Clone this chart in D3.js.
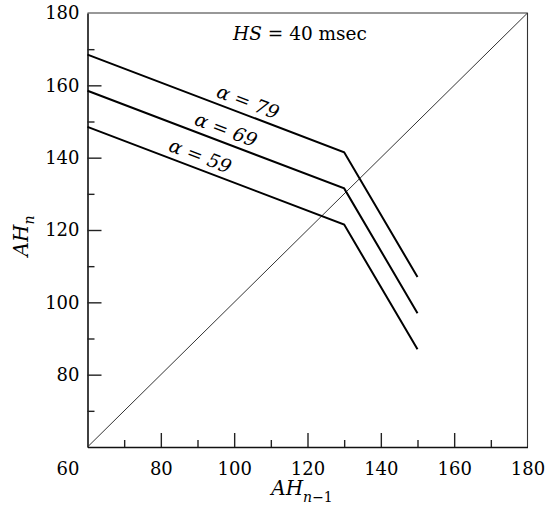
<!DOCTYPE html>
<html>
<head>
<meta charset="utf-8">
<script src="https://cdn.jsdelivr.net/npm/d3@7"></script>
<style>
  body { margin: 0; background: #fff; }
  svg { display: block; font-family: "DejaVu Serif", "Liberation Serif", serif; }
  .axis path { stroke: #111; stroke-width: 1.6; }
  .axis line { stroke: #222; stroke-width: 1.4; }
  .axis text { font-size: 18px; fill: #000; font-family: "DejaVu Serif", serif; }
</style>
</head>
<body>
<svg id="chart" width="547" height="514"></svg>
<script>
// data
let xDomain = [60, 180];
let yDomain = [60, 180];
let majorTicks = [80, 100, 120, 140, 160, 180];
let minorTicks = [70, 90, 110, 130, 150, 170];

// AH_{n-1} breakpoints, shared by the three curves
let ahPrev = [60, 130, 150];
let alphaNames = ["79", "69", "59"];
let alphaValues = [
    [168.5, 141.5, 107],
    [158.5, 131.5, 97],
    [148.5, 121.5, 87]
];
// where along AH_{n-1} each alpha label sits
let labelAt = [102.5, 96.5, 89.5];

let svg = d3.select("#chart");

/* plot box */
let boxLeft = 87.5, boxRight = 527.5, boxTop = 13, boxBottom = 447;

let x = d3.scaleLinear().domain(xDomain).range([boxLeft, boxRight]);
let y = d3.scaleLinear().domain(yDomain).range([boxBottom, boxTop]);

/* top and right borders are thinner */
svg.append("line")
    .attr("x1", boxLeft).attr("x2", boxRight).attr("y1", boxTop).attr("y2", boxTop)
    .attr("stroke", "#333").attr("stroke-width", 1.1);
svg.append("line")
    .attr("x1", boxRight).attr("x2", boxRight).attr("y1", boxTop).attr("y2", boxBottom)
    .attr("stroke", "#333").attr("stroke-width", 1.1);

/* major ticks with labels, pointing inward */
let xAxis = svg.append("g")
    .attr("class", "axis")
    .attr("transform", "translate(0," + boxBottom + ")")
    .call(d3.axisBottom(x).tickValues(majorTicks).tickSize(-14).tickSizeOuter(0).tickPadding(15));

let yAxis = svg.append("g")
    .attr("class", "axis")
    .attr("transform", "translate(" + boxLeft + ",0)")
    .call(d3.axisLeft(y).tickValues(majorTicks).tickSize(-14).tickSizeOuter(0).tickPadding(8));

// no tick line at the far corners
xAxis.selectAll(".tick").filter(d => d == 180).select("line").remove();
yAxis.selectAll(".tick").filter(d => d == 180).select("line").remove();
xAxis.attr("font-family", null).attr("font-size", null);
yAxis.attr("font-family", null).attr("font-size", null);

/* minor ticks */
svg.append("g")
    .attr("class", "axis")
    .attr("transform", "translate(0," + boxBottom + ")")
    .call(d3.axisBottom(x).tickValues(minorTicks).tickSize(-7).tickFormat(""))
    .select(".domain").remove();
svg.append("g")
    .attr("class", "axis")
    .attr("transform", "translate(" + boxLeft + ",0)")
    .call(d3.axisLeft(y).tickValues(minorTicks).tickSize(-7).tickFormat(""))
    .select(".domain").remove();

/* the corner label 60, right aligned under the y labels */
svg.append("text")
    .attr("x", boxLeft - 8)
    .attr("y", boxBottom + 15)
    .attr("dy", "0.71em")
    .attr("text-anchor", "end")
    .style("font-size", "18px")
    .text(xDomain[0]);

/* identity line */
svg.append("line")
    .attr("x1", x(60)).attr("y1", y(60))
    .attr("x2", x(180)).attr("y2", y(180))
    .attr("stroke", "#333").attr("stroke-width", 1);

/* alpha curves */
let line = d3.line()
    .x((d, i) => x(ahPrev[i]))
    .y(d => y(d));

svg.selectAll("path.curve")
    .data(alphaValues)
    .enter()
    .append("path")
    .attr("class", "curve")
    .attr("d", line)
    .attr("fill", "none")
    .attr("stroke", "#000")
    .attr("stroke-width", 2);

/* alpha labels, rotated along the first segment */
alphaValues.forEach(function(vals, i) {
    let slope = (vals[1] - vals[0]) / (ahPrev[1] - ahPrev[0]);
    let lx = labelAt[i];
    let ly = vals[0] + slope * (lx - ahPrev[0]);
    let angle = Math.atan2(y(vals[1]) - y(vals[0]), x(ahPrev[1]) - x(ahPrev[0])) * 180 / Math.PI;

    let t = svg.append("text")
        .attr("transform", "translate(" + x(lx) + "," + y(ly) + ") rotate(" + angle + ")")
        .attr("y", -13)
        .attr("dy", "0.35em")
        .attr("text-anchor", "middle")
        .style("font-size", "19px");
    t.append("tspan").style("font-style", "italic").text("\u03b1");
    t.append("tspan").text(" = ");
    t.append("tspan").style("font-style", "italic").text(alphaNames[i]);
});

/* HS annotation */
let hs = svg.append("text")
    .attr("x", 300)
    .attr("y", 40)
    .attr("text-anchor", "middle")
    .style("font-size", "18.5px");
hs.append("tspan").style("font-style", "italic").text("HS");
hs.append("tspan").text(" = 40 msec");

/* axis titles */
let xt = svg.append("text")
    .attr("x", 302)
    .attr("y", 495)
    .attr("text-anchor", "middle")
    .style("font-size", "20px");
xt.append("tspan").style("font-style", "italic").text("AH");
xt.append("tspan").attr("dy", 7).style("font-size", "14px").style("font-style", "italic").text("n");
xt.append("tspan").style("font-size", "14px").text("\u22121");

let yt = svg.append("text")
    .attr("transform", "translate(28,236) rotate(-90)")
    .attr("text-anchor", "middle")
    .style("font-size", "20px")
    .style("font-style", "italic");
yt.append("tspan").text("AH");
yt.append("tspan").attr("dy", 6).style("font-size", "14px").text("n");
</script>
</body>
</html>
